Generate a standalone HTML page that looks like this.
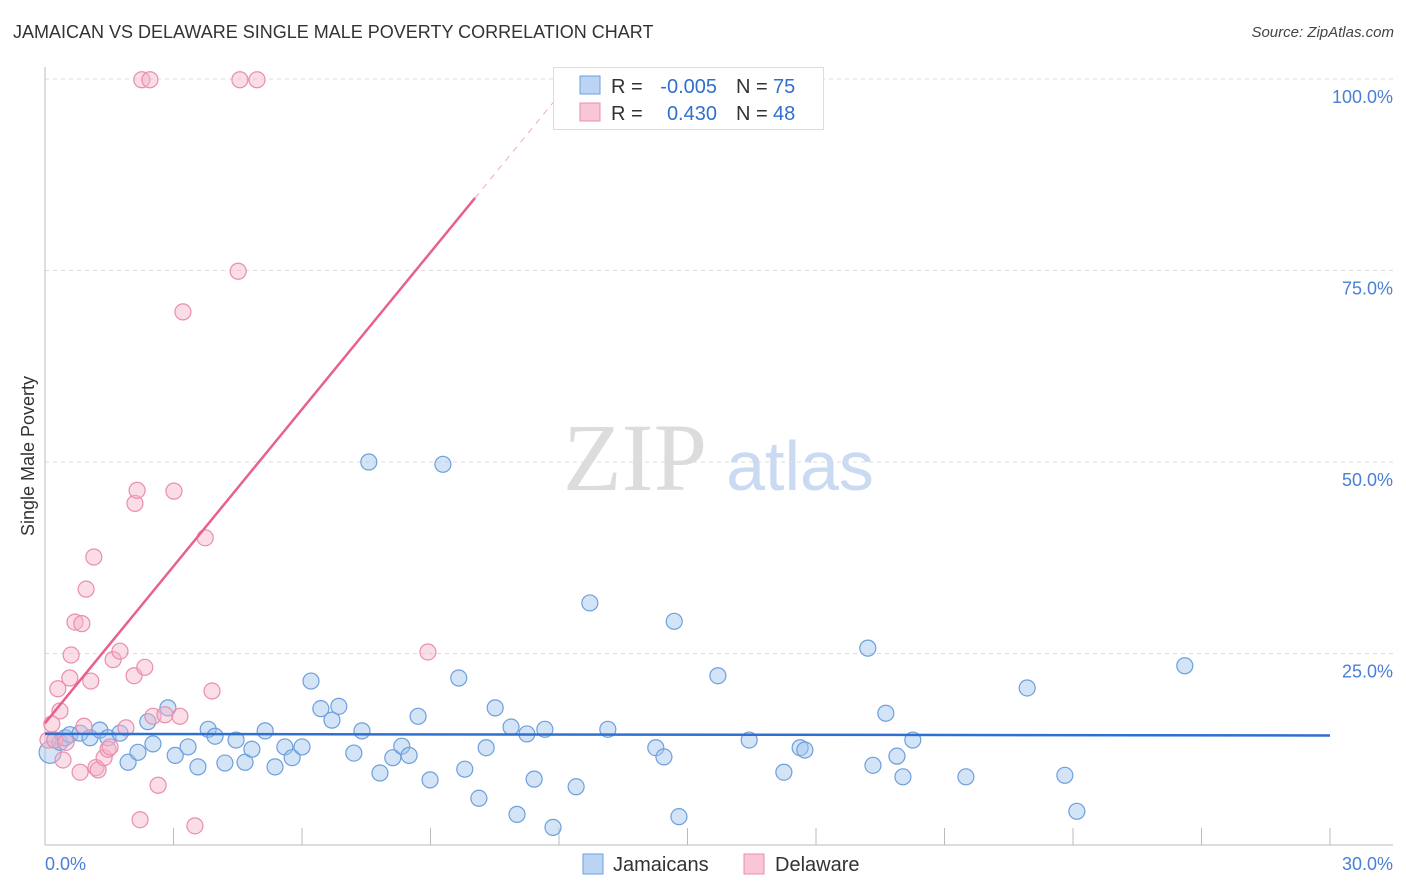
<!DOCTYPE html>
<html><head><meta charset="utf-8">
<style>
body{margin:0;background:#fff;font-family:"Liberation Sans",sans-serif;}
#wrap{position:relative;width:1406px;height:892px;overflow:hidden;}
.t{position:absolute;white-space:nowrap;}
</style></head>
<body>
<div id="wrap">
<div class="t" style="left:13px;top:22px;font-size:18px;color:#333;">JAMAICAN VS DELAWARE SINGLE MALE POVERTY CORRELATION CHART</div>
<div class="t" style="right:12px;top:24px;font-size:15px;font-style:italic;color:#444;">Source: ZipAtlas.com</div>
<svg id="svg" width="1406" height="892" style="position:absolute;left:0;top:0"></svg>
</div>
<script>
const xTicks=[0,3,6,9,12,15,18,21,24,27,30];
const yTicks=[25,50,75,100];
const yTickLabels=["25.0%","50.0%","75.0%","100.0%"];
const xEndLabels=["0.0%","30.0%"];
const jamX=[0.12,0.23,0.35,0.47,0.58,0.82,1.05,1.28,1.47,1.75,1.94,2.17,2.40,2.52,2.87,3.04,3.34,3.57,3.81,3.97,4.20,4.46,4.67,4.83,5.14,5.37,5.60,5.77,6.00,6.21,6.44,6.70,6.86,7.21,7.40,7.56,7.82,8.12,8.33,8.50,8.71,8.99,9.29,9.66,9.80,10.13,10.51,10.30,10.88,11.02,11.25,11.42,11.67,11.86,12.40,12.72,13.14,14.26,14.45,14.69,14.80,15.71,16.44,17.25,17.63,17.74,19.21,19.33,19.63,19.89,20.03,20.26,21.50,22.93,23.81,24.09,26.61];
const jamY=[12.1,13.7,13.4,14.0,14.4,14.6,14.0,15.0,14.0,14.6,10.8,12.1,16.1,13.2,17.9,11.7,12.8,10.2,15.1,14.2,10.7,13.7,10.8,12.5,14.9,10.2,12.8,11.4,12.8,21.4,17.8,16.3,18.1,12.0,14.9,50.0,9.4,11.4,12.9,11.7,16.8,8.5,49.7,21.8,9.9,6.1,17.9,12.7,15.4,4.0,14.5,8.6,15.1,2.3,7.6,31.6,15.1,12.7,11.5,29.2,3.7,22.1,13.7,9.5,12.7,12.4,25.7,10.4,17.2,11.6,8.9,13.7,8.9,20.5,9.1,4.4,23.4];
const delX=[0.07,0.16,0.23,0.30,0.35,0.42,0.49,0.58,0.61,0.70,0.82,0.86,0.91,0.96,1.07,1.14,1.19,1.24,1.38,1.47,1.52,1.59,1.75,1.89,2.08,2.10,2.15,2.22,2.26,2.33,2.45,2.52,2.64,2.80,3.01,3.15,3.22,3.50,3.74,3.90,4.51,4.55,4.95,8.94];
const delY=[13.7,15.8,13.7,20.4,17.5,11.1,13.4,21.8,24.8,29.1,9.5,28.9,15.5,33.4,21.4,37.6,10.1,9.8,11.4,12.5,12.8,24.2,25.3,15.3,22.1,44.6,46.3,3.3,99.9,23.2,99.9,16.8,7.8,17.0,46.2,16.8,69.6,2.5,40.1,20.1,74.9,99.9,99.9,25.2];
const jamTrend=[14.5,14.3]; // y at x=0 and x=30
const delTrend=[15.9,6.83]; // intercept, slope
const X=v=>45+v/30*1285, Y=v=>845-v/100*766;
const svg=document.getElementById('svg');const NS='http://www.w3.org/2000/svg';
function mk(tag,a,name,parent){const e=document.createElementNS(NS,tag);for(const k in a)e.setAttribute(k,a[k]);


(parent||svg).appendChild(e);return e;}
// watermark
let w=mk('text',{x:635,y:490,'font-size':96,'font-family':'Liberation Serif','fill':'#dcdcdc','text-anchor':'middle'},'watermark-zip');w.textContent='ZIP';
w=mk('text',{x:800,y:490,'font-size':70,'font-family':'Liberation Sans','fill':'#c9daf2','text-anchor':'middle'},'watermark-atlas');w.textContent='atlas';
yTicks.forEach((t,i)=>{mk('line',{x1:45,x2:1393,y1:Y(t),y2:Y(t),stroke:'#ddd','stroke-dasharray':'4,4'},'gridline');
const l=mk('text',{x:1393,y:Y(t)+24,'font-size':18,fill:'#4a7fd4','text-anchor':'end'},'y-tick-label');l.textContent=yTickLabels[i];});
mk('line',{x1:45,x2:45,y1:67,y2:845,stroke:'#bbb'},'y-axis');
mk('line',{x1:45,x2:1393,y1:845,y2:845,stroke:'#bbb'},'x-axis');
xTicks.forEach(t=>mk('line',{x1:X(t),x2:X(t),y1:828,y2:845,stroke:'#bbb'},'x-tick'));
let l=mk('text',{x:45,y:870,'font-size':18,fill:'#4a7fd4'},'x-min-label');l.textContent=xEndLabels[0];
l=mk('text',{x:1393,y:870,'font-size':18,fill:'#4a7fd4','text-anchor':'end'},'x-max-label');l.textContent=xEndLabels[1];
l=mk('text',{x:34,y:456,'font-size':18,fill:'#333','text-anchor':'middle',transform:'rotate(-90 34 456)'},'y-axis-title');l.textContent='Single Male Poverty';
jamX.forEach((x,i)=>mk('circle',{cx:X(x),cy:Y(jamY[i]),r:i==0?11:8,fill:'rgba(160,195,238,0.45)',stroke:'#6d9fdc','stroke-width':1.2},'jamaican-point'));
delX.forEach((x,i)=>mk('circle',{cx:X(x),cy:Y(delY[i]),r:8,fill:'rgba(245,180,202,0.45)',stroke:'#e98eac','stroke-width':1.2},'delaware-point'));
mk('line',{x1:X(0),y1:Y(jamTrend[0]),x2:X(30),y2:Y(jamTrend[1]),stroke:'#2f6fd0','stroke-width':2.5},'jamaican-trendline');
const xs=10.04, xe=(100-delTrend[0])/delTrend[1];
mk('line',{x1:X(0),y1:Y(delTrend[0]),x2:X(xs),y2:Y(delTrend[0]+delTrend[1]*xs),stroke:'#e8608e','stroke-width':2.5},'delaware-trendline');
mk('line',{x1:X(xs),y1:Y(delTrend[0]+delTrend[1]*xs),x2:X(xe),y2:Y(100),stroke:'#f0a8c0','stroke-width':1,'stroke-dasharray':'6,6'},'delaware-trendline-ext');
// legend box
mk('rect',{x:553.5,y:67.5,width:270,height:62,fill:'#fff',stroke:'#ddd'},'legend-box');
mk('rect',{x:580,y:76,width:20,height:18,fill:'#bcd4f4',stroke:'#6d9fdc'},'legend-swatch-jamaican');
mk('rect',{x:580,y:103,width:20,height:18,fill:'#f8c6d6',stroke:'#e98eac'},'legend-swatch-delaware');
function tx(x,y,s,c,name,anchor){const e=mk('text',{x:x,y:y,'font-size':20,fill:c,'text-anchor':anchor||'start'},name);e.textContent=s;}
tx(611,93,'R = ','#333','legend-r-label');tx(717,93,'-0.005','#2f6fd0','legend-r-jamaican','end');
tx(736,93,'N = ','#333','legend-n-label');tx(773,93,'75','#2f6fd0','legend-n-jamaican');
tx(611,120,'R = ','#333','legend-r-label');tx(717,120,'0.430','#2f6fd0','legend-r-delaware','end');
tx(736,120,'N = ','#333','legend-n-label');tx(773,120,'48','#2f6fd0','legend-n-delaware');
// bottom legend
mk('rect',{x:583,y:854,width:20,height:20,fill:'#bcd4f4',stroke:'#6d9fdc'},'bottom-legend-swatch-jamaican');
tx(613,871,'Jamaicans','#333','bottom-legend-jamaicans');
mk('rect',{x:744,y:854,width:20,height:20,fill:'#f8c6d6',stroke:'#e98eac'},'bottom-legend-swatch-delaware');
tx(775,871,'Delaware','#333','bottom-legend-delaware');
</script>
</body></html>
